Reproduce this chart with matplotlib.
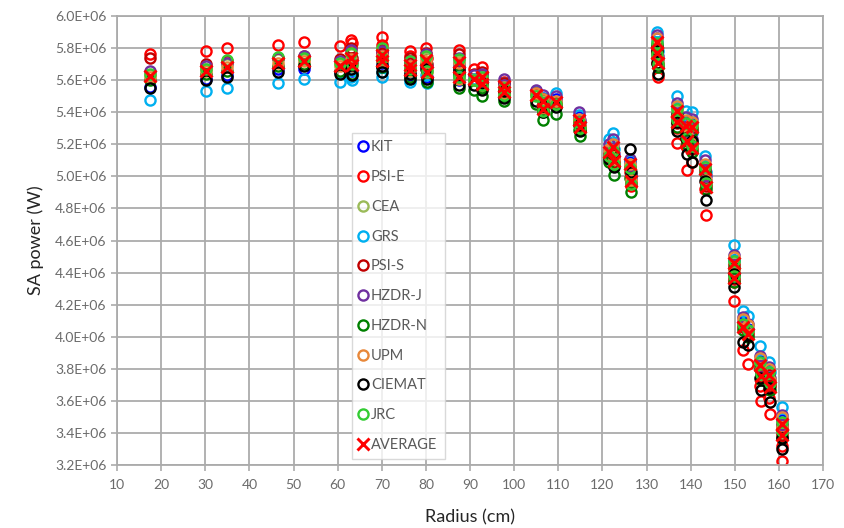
import numpy as np
import matplotlib
matplotlib.use("Agg")
import matplotlib.pyplot as plt

plt.rcParams['font.family'] = ['Lato', 'DejaVu Sans']

# Radial position of each subassembly (cm)
radius = [17.5, 30.2, 34.9, 46.4, 52.4, 60.6, 63.1, 63.3, 70.0, 70.1,
          76.3, 76.4, 80.1, 80.2, 87.5, 87.6, 90.8, 92.7, 92.8, 97.6,
          97.7, 104.9, 106.5, 106.6, 109.5, 114.8, 114.9, 121.4, 122.4, 122.6,
          126.3, 126.4, 132.3, 132.4, 132.5, 136.9, 137.0, 139.0, 139.1, 140.3,
          140.4, 143.3, 143.4, 149.8, 149.9, 151.9, 152.9, 155.8, 155.9, 157.8,
          157.9, 160.7, 160.8]

# Subassembly power per participant (MW)
kit = [5.56, 5.61, 5.63, 5.67, 5.67, 5.65, 5.69, 5.66, 5.71, 5.68,
       5.66, 5.63, 5.69, 5.62, 5.69, 5.60, 5.60, 5.61, 5.57, 5.57,
       5.53, 5.53, 5.49, 5.44, 5.48, 5.37, 5.33, 5.17, 5.20, 5.12,
       5.09, 4.99, 5.86, 5.79, 5.73, 5.43, 5.36, 5.34, 5.25, 5.33,
       5.20, 5.07, 4.97, 4.48, 4.39, 4.09, 4.05, 3.85, 3.78, 3.79,
       3.72, 3.48, 3.42]
psi_e = [5.76, 5.78, 5.80, 5.82, 5.84, 5.81, 5.85, 5.83, 5.87, 5.82,
         5.78, 5.75, 5.80, 5.74, 5.79, 5.70, 5.67, 5.68, 5.63, 5.59,
         5.55, 5.52, 5.47, 5.42, 5.45, 5.33, 5.29, 5.12, 5.15, 5.07,
         5.03, 4.94, 5.79, 5.71, 5.62, 5.30, 5.21, 5.19, 5.04, 5.21,
         5.09, 4.92, 4.76, 4.34, 4.225, 3.92, 3.83, 3.69, 3.60, 3.62,
         3.52, 3.32, 3.225]
cea = [5.63, 5.67, 5.70, 5.73, 5.73, 5.70, 5.76, 5.71, 5.78, 5.74,
       5.71, 5.68, 5.74, 5.67, 5.72, 5.62, 5.61, 5.62, 5.58, 5.56,
       5.52, 5.51, 5.47, 5.42, 5.46, 5.35, 5.31, 5.15, 5.18, 5.10,
       5.07, 4.97, 5.84, 5.77, 5.71, 5.41, 5.34, 5.32, 5.23, 5.31,
       5.18, 5.05, 4.95, 4.46, 4.37, 4.07, 4.03, 3.83, 3.76, 3.77,
       3.70, 3.46, 3.40]
grs = [5.475, 5.53, 5.55, 5.58, 5.61, 5.59, 5.62, 5.60, 5.65, 5.62,
       5.61, 5.59, 5.63, 5.58, 5.70, 5.62, 5.61, 5.62, 5.58, 5.58,
       5.54, 5.53, 5.49, 5.45, 5.52, 5.38, 5.34, 5.23, 5.27, 5.17,
       5.10, 5.00, 5.90, 5.84, 5.78, 5.50, 5.43, 5.41, 5.32, 5.40,
       5.27, 5.13, 5.03, 4.57, 4.48, 4.16, 4.13, 3.94, 3.86, 3.84,
       3.78, 3.56, 3.49]
psi_s = [5.735, 5.70, 5.72, 5.74, 5.75, 5.73, 5.80, 5.74, 5.79, 5.77,
         5.74, 5.71, 5.77, 5.70, 5.76, 5.66, 5.64, 5.65, 5.61, 5.58,
         5.54, 5.52, 5.48, 5.43, 5.46, 5.35, 5.31, 5.14, 5.17, 5.09,
         5.06, 4.96, 5.82, 5.76, 5.70, 5.39, 5.33, 5.31, 5.22, 5.30,
         5.17, 5.04, 4.94, 4.45, 4.36, 4.06, 4.02, 3.82, 3.75, 3.76,
         3.69, 3.45, 3.39]
hzdr_j = [5.66, 5.69, 5.71, 5.74, 5.75, 5.72, 5.79, 5.72, 5.78, 5.75,
          5.72, 5.69, 5.76, 5.69, 5.74, 5.65, 5.63, 5.64, 5.60, 5.61,
          5.57, 5.54, 5.51, 5.46, 5.50, 5.40, 5.35, 5.20, 5.23, 5.14,
          5.11, 5.01, 5.88, 5.81, 5.75, 5.46, 5.39, 5.37, 5.28, 5.36,
          5.23, 5.10, 5.00, 4.51, 4.42, 4.12, 4.08, 3.88, 3.81, 3.81,
          3.74, 3.51, 3.45]
hzdr_n = [5.60, 5.64, 5.66, 5.69, 5.70, 5.66, 5.70, 5.64, 5.72, 5.68,
          5.67, 5.62, 5.70, 5.59, 5.64, 5.55, 5.54, 5.55, 5.50, 5.50,
          5.47, 5.45, 5.40, 5.35, 5.39, 5.29, 5.25, 5.09, 5.12, 5.01,
          4.99, 4.90, 5.81, 5.74, 5.68, 5.38, 5.31, 5.29, 5.20, 5.28,
          5.15, 5.02, 4.92, 4.43, 4.34, 4.04, 4.00, 3.80, 3.73, 3.74,
          3.67, 3.43, 3.37]
upm = [5.62, 5.66, 5.68, 5.71, 5.72, 5.69, 5.73, 5.69, 5.75, 5.72,
       5.69, 5.66, 5.72, 5.65, 5.71, 5.61, 5.60, 5.61, 5.57, 5.56,
       5.52, 5.52, 5.48, 5.43, 5.47, 5.36, 5.32, 5.17, 5.20, 5.11,
       5.08, 4.98, 5.86, 5.79, 5.73, 5.44, 5.37, 5.35, 5.26, 5.34,
       5.21, 5.08, 4.98, 4.50, 4.41, 4.11, 4.07, 3.87, 3.80, 3.80,
       3.73, 3.50, 3.44]
ciemat = [5.55, 5.60, 5.62, 5.65, 5.69, 5.64, 5.67, 5.63, 5.69, 5.65,
          5.64, 5.61, 5.67, 5.61, 5.67, 5.57, 5.57, 5.58, 5.54, 5.53,
          5.49, 5.47, 5.44, 5.40, 5.43, 5.32, 5.28, 5.11, 5.14, 5.06,
          5.17, 5.03, 5.78, 5.71, 5.64, 5.34, 5.28, 5.24, 5.14, 5.22,
          5.09, 4.97, 4.85, 4.39, 4.31, 3.97, 3.95, 3.74, 3.67, 3.68,
          3.59, 3.37, 3.30]
jrc = [5.64, 5.67, 5.725, 5.745, 5.74, 5.71, 5.77, 5.70, 5.80, 5.74,
       5.72, 5.67, 5.75, 5.66, 5.73, 5.62, 5.60, 5.62, 5.57, 5.55,
       5.51, 5.50, 5.46, 5.41, 5.45, 5.34, 5.30, 5.13, 5.16, 5.08,
       5.05, 4.95, 5.83, 5.76, 5.70, 5.42, 5.35, 5.33, 5.24, 5.32,
       5.19, 5.06, 4.96, 4.47, 4.38, 4.08, 4.04, 3.84, 3.77, 3.78,
       3.71, 3.47, 3.41]

labels = ["KIT", "PSI-E", "CEA", "GRS", "PSI-S", "HZDR-J", "HZDR-N",
          "UPM", "CIEMAT", "JRC"]
series = [kit, psi_e, cea, grs, psi_s, hzdr_j, hzdr_n, upm, ciemat, jrc]
colors = ["#0000FF", "#FF0000", "#9BBB59", "#00B0F0", "#C00000",
          "#7030A0", "#008000", "#E8883A", "#000000", "#33CC33"]

r = np.array(radius)
vals = np.array(series) * 1e6
average = vals.mean(axis=0)

fig = plt.figure(figsize=(8.44, 5.28), dpi=100)
ax = fig.add_axes([117 / 844, 1 - 465 / 528, 706 / 844, 449 / 528])

for lab, col, v in zip(labels, colors, vals):
    ax.plot(r, v, linestyle="none", marker="o", markersize=7.3,
            markerfacecolor="none", markeredgecolor=col,
            markeredgewidth=1.7, label=lab)
ax.plot(r, average, linestyle="none", marker="x", markersize=8,
        markeredgecolor="#FF0000", markeredgewidth=2.1, label="AVERAGE")

ax.set_xlim(10, 170)
ax.set_ylim(3.2e6, 6.0e6)
ax.set_xticks(np.arange(10, 171, 10))
yt = np.arange(3.2e6, 6.0e6 + 1, 0.2e6)
ax.set_yticks(yt)
ax.set_yticklabels([f"{v/1e6:.1f}E+06" for v in yt])

ax.grid(True, color="#ABABAB", linewidth=1.3)
ax.set_axisbelow(True)
for s in ax.spines.values():
    s.set_color("#ABABAB")
    s.set_linewidth(1.3)
ax.tick_params(axis="both", colors="#ABABAB", length=4, width=1.2,
               labelcolor="#6B6B6B", labelsize=10)
ax.tick_params(axis="x", pad=6)

ax.set_xlabel("Radius (cm)", fontsize=13, color="#262626", labelpad=13)
ax.set_ylabel("SA power (W)", fontsize=13, color="#262626", labelpad=8)

leg = ax.legend(loc="upper left", bbox_to_anchor=(0.333, 0.739),
                frameon=True, fancybox=False, fontsize=10.5,
                labelspacing=1.08, handlelength=0.5, handletextpad=0.3,
                borderpad=0.5, borderaxespad=0)
leg.get_frame().set_edgecolor("#D0D0D0")
leg.get_frame().set_linewidth(1.0)
for t in leg.get_texts():
    t.set_color("#595959")

fig.savefig("out.png", dpi=100)
